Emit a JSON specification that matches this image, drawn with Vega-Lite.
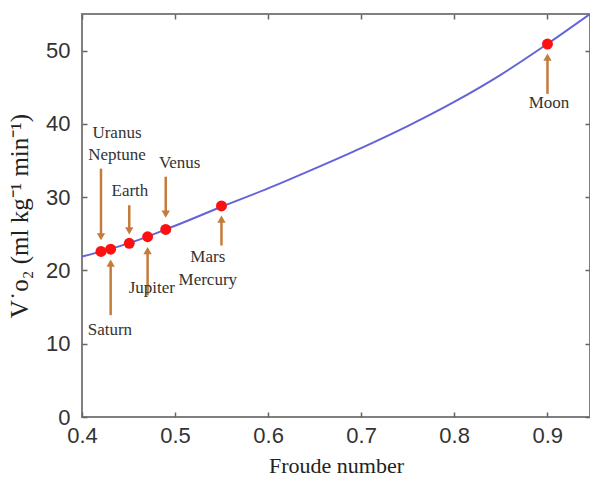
{
  "$schema": "https://vega.github.io/schema/vega-lite/v6.json",
  "width": 508,
  "height": 403,
  "autosize": {"type": "none"},
  "padding": {"left": 82, "top": 14, "right": 0, "bottom": 62},
  "config": {
    "view": {"stroke": "#808080", "strokeWidth": 2},
    "axis": {"grid": false, "domain": false, "tickColor": "#666", "tickWidth": 1.5, "tickSize": -5,
             "labelFont": "Liberation Sans", "labelFontSize": 22, "labelColor": "#333", "labelFlush": false,
             "titleFont": "Liberation Serif", "titleFontWeight": "normal", "titleColor": "#222"}
  },
  "datasets": {
    "curve": [
      {"froude": 0.40, "vo2": 21.9}, {"froude": 0.45, "vo2": 23.7}, {"froude": 0.50, "vo2": 26.1},
      {"froude": 0.55, "vo2": 28.7}, {"froude": 0.60, "vo2": 31.2}, {"froude": 0.65, "vo2": 33.9},
      {"froude": 0.70, "vo2": 36.7}, {"froude": 0.75, "vo2": 39.7}, {"froude": 0.80, "vo2": 43.0},
      {"froude": 0.85, "vo2": 46.7}, {"froude": 0.90, "vo2": 50.9}, {"froude": 0.946, "vo2": 55.0}
    ],
    "bodies": [
      {"body": "Uranus/Neptune", "froude": 0.4204, "vo2": 22.6},
      {"body": "Saturn", "froude": 0.4308, "vo2": 22.9},
      {"body": "Earth", "froude": 0.4508, "vo2": 23.7},
      {"body": "Jupiter", "froude": 0.4705, "vo2": 24.6},
      {"body": "Venus", "froude": 0.490, "vo2": 25.6},
      {"body": "Mars/Mercury", "froude": 0.5499, "vo2": 28.8},
      {"body": "Moon", "froude": 0.9003, "vo2": 50.9}
    ],
    "arrows": [
      {"body": "Uranus/Neptune", "froude": 0.4204, "tail": 33.9, "head": 24.6, "dir": "down"},
      {"body": "Saturn", "froude": 0.4308, "tail": 13.9, "head": 21.0, "dir": "up"},
      {"body": "Earth", "froude": 0.4508, "tail": 28.9, "head": 25.4, "dir": "down"},
      {"body": "Jupiter", "froude": 0.4705, "tail": 16.6, "head": 22.7, "dir": "up"},
      {"body": "Venus", "froude": 0.490, "tail": 32.8, "head": 27.7, "dir": "down"},
      {"body": "Mars/Mercury", "froude": 0.5499, "tail": 23.4, "head": 27.0, "dir": "up"},
      {"body": "Moon", "froude": 0.9003, "tail": 44.1, "head": 49.1, "dir": "up"}
    ],
    "labels": [
      {"text": "Uranus", "froude": 0.4376, "vo2": 38.7, "align": "center"},
      {"text": "Neptune", "froude": 0.4376, "vo2": 35.7, "align": "center"},
      {"text": "Earth", "froude": 0.4515, "vo2": 30.8, "align": "center"},
      {"text": "Venus", "froude": 0.505, "vo2": 34.7, "align": "center"},
      {"text": "Jupiter", "froude": 0.4751, "vo2": 17.6, "align": "center"},
      {"text": "Saturn", "froude": 0.430, "vo2": 11.9, "align": "center"},
      {"text": "Mars", "froude": 0.5352, "vo2": 21.8, "align": "left"},
      {"text": "Mercury", "froude": 0.5352, "vo2": 18.7, "align": "left"},
      {"text": "Moon", "froude": 0.902, "vo2": 42.9, "align": "center"}
    ]
  },
  "layer": [
    {
      "data": {"name": "curve"},
      "mark": {"type": "line", "color": "#6464d8", "strokeWidth": 2, "clip": true, "interpolate": "monotone"},
      "encoding": {
        "x": {"field": "froude", "type": "quantitative", "scale": {"domain": [0.4, 0.946], "nice": false, "zero": false},
              "axis": {"orient": "bottom", "values": [0.4, 0.5, 0.6, 0.7, 0.8, 0.9], "format": ".1f", "title": "Froude number",
                       "titleFontSize": 22, "titlePadding": 9, "labelPadding": 13}},
        "y": {"field": "vo2", "type": "quantitative", "scale": {"domain": [0, 55], "nice": false},
              "axis": {"orient": "left", "values": [0, 10, 20, 30, 40, 50], "title": "V˙o₂ (ml kg⁻¹ min⁻¹)",
                       "titleFontSize": 25, "titlePadding": 13, "labelPadding": 17}}
      }
    },
    {
      "data": {"name": "curve"},
      "mark": {"type": "line", "opacity": 0, "clip": true},
      "encoding": {
        "x": {"field": "froude", "type": "quantitative", "axis": {"orient": "top", "values": [0.4, 0.5, 0.6, 0.7, 0.8, 0.9], "labels": false, "title": null}},
        "y": {"field": "vo2", "type": "quantitative", "axis": {"orient": "right", "values": [0, 10, 20, 30, 40, 50], "labels": false, "title": null}}
      }
    },
    {
      "data": {"name": "arrows"},
      "mark": {"type": "rule", "color": "#c47c3c", "strokeWidth": 2.5},
      "encoding": {
        "x": {"field": "froude", "type": "quantitative", "axis": null},
        "y": {"field": "tail", "type": "quantitative", "axis": null},
        "y2": {"field": "head"}
      }
    },
    {
      "data": {"name": "arrows"},
      "mark": {"type": "point", "filled": true, "color": "#c47c3c", "opacity": 1, "size": 70},
      "encoding": {
        "x": {"field": "froude", "type": "quantitative", "axis": null},
        "y": {"field": "head", "type": "quantitative", "axis": null},
        "shape": {"field": "dir", "type": "nominal", "scale": {"domain": ["up", "down"], "range": ["triangle-up", "triangle-down"]}, "legend": null}
      }
    },
    {
      "data": {"name": "bodies"},
      "mark": {"type": "circle", "color": "#ff1010", "opacity": 1, "size": 120},
      "encoding": {
        "x": {"field": "froude", "type": "quantitative", "axis": null},
        "y": {"field": "vo2", "type": "quantitative", "axis": null}
      }
    },
    {
      "data": {"name": "labels"},
      "mark": {"type": "text", "font": "Liberation Serif", "fontSize": 17, "color": "#333", "baseline": "middle"},
      "encoding": {
        "x": {"field": "froude", "type": "quantitative", "axis": null},
        "y": {"field": "vo2", "type": "quantitative", "axis": null},
        "text": {"field": "text"},
        "align": {"field": "align", "type": "nominal", "scale": null}
      }
    }
  ],
  "resolve": {"axis": {"x": "independent", "y": "independent"}}
}
